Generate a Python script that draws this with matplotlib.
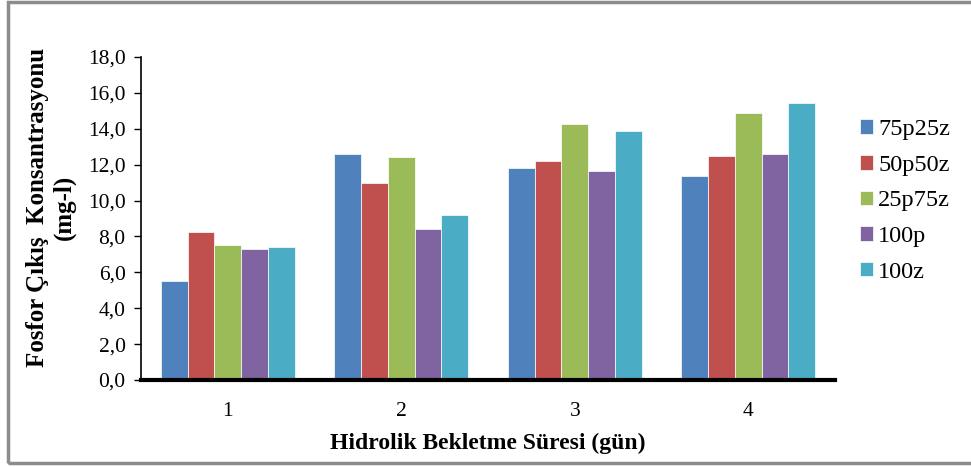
import numpy as np
import matplotlib.pyplot as plt
from matplotlib.patches import Rectangle

# data
days = ["1", "2", "3", "4"]
series_names = ["75p25z", "50p50z", "25p75z", "100p", "100z"]
v_75p25z = [5.5, 12.6, 11.8, 11.35]
v_50p50z = [8.25, 11.0, 12.2, 12.5]
v_25p75z = [7.5, 12.4, 14.25, 14.9]
v_100p = [7.3, 8.4, 11.65, 12.6]
v_100z = [7.4, 9.2, 13.85, 15.45]
yticks = [0, 2, 4, 6, 8, 10, 12, 14, 16, 18]

colors = ["#4F81BD", "#C0504D", "#9BBB59", "#8064A2", "#4BACC6"]
values = [v_75p25z, v_50p50z, v_25p75z, v_100p, v_100z]

plt.rcParams['font.family'] = ['Liberation Serif', 'DejaVu Serif']

fig = plt.figure(figsize=(9.71, 4.67), dpi=100)
ax = fig.add_axes([141/971, 1 - 380/467, (835 - 141)/971, (380 - 57)/467])

x = np.arange(len(days))
w = 0.77 / 5
for i, (name, vals) in enumerate(zip(series_names, values)):
    ax.bar(x + (i - 2) * w, vals, w, color=colors[i], label=name,
           edgecolor="white", linewidth=0.5)

ax.set_xlim(-0.5, 3.5)
ax.set_ylim(0, 18)
ax.set_yticks(yticks)
ax.set_yticklabels([("%.1f" % t).replace(".", ",") for t in yticks])
ax.set_xticks(x)
ax.set_xticklabels(days)
ax.tick_params(axis="y", labelsize=15.5, length=5, width=1, direction="out", pad=6)
ax.tick_params(axis="x", labelsize=15.5, length=0, pad=16)

ax.spines["top"].set_visible(False)
ax.spines["right"].set_visible(False)
ax.spines["left"].set_linewidth(1.2)
ax.spines["bottom"].set_linewidth(3)

ax.set_xlabel("Hidrolik Bekletme Süresi (gün)", fontsize=17, fontweight="bold", labelpad=8)
fig.text(51/971, 0.555, "Fosfor Çıkış  Konsantrasyonu\n(mg-l)", rotation=90,
         fontsize=18, fontweight="bold", ha="center", va="center", linespacing=1.2)

leg = fig.legend(loc="center left", bbox_to_anchor=(838/971, 1 - 201/467), frameon=False,
                 fontsize=17.5, handlelength=0.55, handleheight=0.55, handletextpad=0.2,
                 labelspacing=0.6)

# grey frame round the chart
fig.patches.append(Rectangle((8/971, 4/467), 1.05, 1 - 6/467, transform=fig.transFigure,
                             fill=False, edgecolor="#8c8c8c", linewidth=2.5))

fig.savefig("out.png", dpi=100)
